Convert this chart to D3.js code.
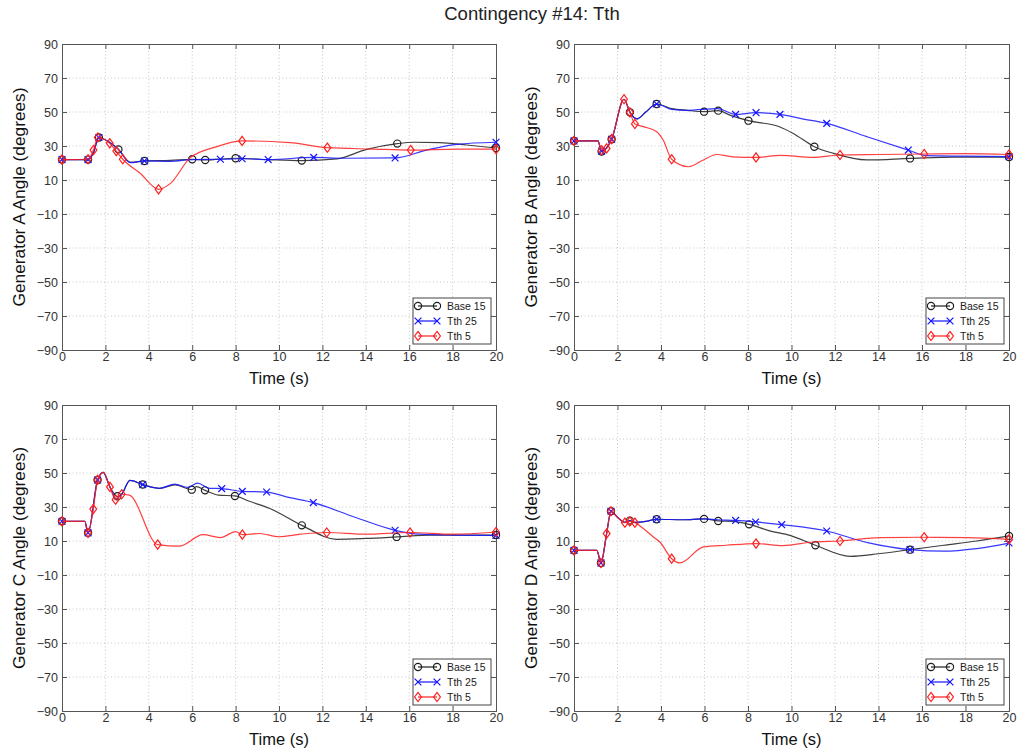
<!DOCTYPE html>
<html>
<head>
<meta charset="utf-8">
<script src="https://cdn.jsdelivr.net/npm/d3@7"></script>
<style>
  html, body { margin: 0; padding: 0; background: #fff; }
  svg { display: block; font-family: "Liberation Sans", Arial, sans-serif; }
</style>
</head>
<body>
<svg id="fig" width="1018" height="753"></svg>
<script>
// Time axis and angle axis ticks
const xTicks = [0, 2, 4, 6, 8, 10, 12, 14, 16, 18, 20];
const yTicks = [-90, -70, -50, -30, -10, 10, 30, 50, 70, 90];
const seriesNames = ["Base 15", "Tth 25", "Tth 5"];
const panelTitles = ["Generator A Angle (degrees)", "Generator B Angle (degrees)",
                     "Generator C Angle (degrees)", "Generator D Angle (degrees)"];

// Each point: [time (s), angle (deg), marker flag]
const genA_base = [[0,22,1],[1.2,22,1],[1.45,26],[1.7,35,1],[2.2,32],[2.6,28,1],[3.15,20.5],[3.8,21.2,1],[5,21.5],[6,22.2,1],[6.6,21.8,1],[8,22.8,1],[9.5,22],[11.05,21.4,1],[12.66,22.4],[14.04,28],[15.45,31.4,1],[16.2,32.2],[17.4,32],[18.65,30.6],[20,28.8,1]];
const genA_t25  = [[0,22,1],[1.2,22,1],[1.45,26],[1.7,35,1],[2.2,32],[2.6,28],[3.15,20.2],[3.8,21.2,1],[5,21],[6,22],[7.3,22.2,1],[8.3,22.5,1],[9.5,22,1],[11.6,23.3,1],[13,22.8],[15.35,23,1],[16.8,27.6],[18.2,31],[20,32.2,1]];
const genA_t5   = [[0,22,1],[1.2,22.2,1],[1.45,27.6,1],[1.65,35,1],[2.2,31.6,1],[2.5,27,1],[2.8,22.2,1],[3.6,14],[4.45,4.5,1],[5,8],[5.9,23],[7.1,29.5],[8.3,33,1],[10.5,32],[12.23,29,1],[14.35,28.2],[16.07,27.6,1],[18.2,28.2],[20,28.2,1]];

const genB_base = [[0,33,1],[1.1,33],[1.27,26.7,1],[1.73,34,1],[2.3,57.5],[2.57,49.8,1],[2.9,46],[3.3,50],[3.8,54.7,1],[4.5,52],[5.2,51],[5.98,50.2,1],[6.63,50.8,1],[7.2,48],[8.02,44.9,1],[9.47,41.2],[10.08,37.4],[11.05,29.6,1],[11.92,25.7],[13.46,21.8],[15.45,22.7,1],[17.5,23.5],[20,23.5,1]];
const genB_t25  = [[0,33,1],[1.1,33],[1.27,27,1],[1.73,34,1],[2.3,57.5],[2.57,50],[2.9,46],[3.3,50],[3.8,54.7,1],[4.5,51.5],[5.2,51],[6.6,52],[7.43,48.6,1],[8.37,49.6,1],[9.47,48.6,1],[10.5,46],[11.62,43.3,1],[13.46,35.5],[15.37,27.6,1],[16.2,24.3],[18,24],[20,23.7,1]];
const genB_t5   = [[0,33,1],[1.1,33],[1.27,27.5,1],[1.5,28.6,1],[1.73,34,1],[2.3,57.5,1],[2.57,49.8,1],[2.8,43,1],[3.19,41.4],[3.8,38.4],[4.1,33.5],[4.49,22.2,1],[5.26,17.8],[5.95,21.8],[6.56,25],[7.3,23.6],[8.37,23.3,1],[9.5,24.5],[11,23.3],[12.23,24.7,1],[14,25],[16.1,25.3,1],[18,25.5],[20,25,1]];

const genC_base = [[0,21.6,1],[1.05,21.6],[1.2,14.8,1],[1.64,45.9,1],[1.9,50.4],[2.2,42],[2.55,36.3,1],[2.75,37.5],[3.13,45.7],[3.72,43.2,1],[4.5,41],[5.2,43],[5.98,40.2,1],[6.2,42],[6.59,39.8,1],[7.2,37],[7.97,36.5,1],[8.6,33.5],[9.58,29.1],[11.05,19.2,1],[12.66,11],[14,11.5],[15.42,12.4,1],[17,13.5],[20,13.5,1]];
const genC_t25  = [[0,21.6,1],[1.05,21.6],[1.2,14.8,1],[1.64,45.9,1],[1.9,50.4],[2.2,42],[2.5,35],[2.75,37.5],[3.13,45.7],[3.72,43.2,1],[4.5,41],[5.2,43.5],[5.8,41.5],[6.25,44],[6.8,41],[7.36,40.8,1],[8.31,39.2,1],[9.43,38.8,1],[10.5,35.5],[11.58,32.6,1],[13.5,24],[15.35,16.3,1],[16.5,14],[18,13.5],[20,13.3,1]];
const genC_t5   = [[0,21.6,1],[1.05,21.6],[1.2,14.8,1],[1.44,28.8,1],[1.64,45.9,1],[1.9,50.4],[2.21,41.8,1],[2.47,34.3,1],[2.75,37.5,1],[3.1,37],[4.41,7.9,1],[5.4,7],[6.5,13.7],[7.3,12],[8,15.5],[8.31,13.8,1],[9.1,14.4],[10,12.5],[11,14],[12.2,15,1],[14,14],[16.04,15,1],[18,14],[20,15.3,1]];

const genD_base = [[0,4.5,1],[1.05,4.5],[1.24,-2.9,1],[1.5,14.4],[1.7,27.5,1],[2.0,24],[2.34,21],[2.57,22,1],[2.8,21],[3.3,21.5],[3.8,22.8,1],[5,22.5],[5.98,23,1],[6.63,21.8,1],[7.3,21.5],[8.05,19.8,1],[9,16],[9.93,13.3],[11.1,7.5,1],[12.7,1],[14,2.5],[15.45,4.9,1],[17,7.5],[18.5,10],[20,13,1]];
const genD_t25  = [[0,4.5,1],[1.05,4.5],[1.24,-2.9,1],[1.5,14.4],[1.7,27.5,1],[2.0,24],[2.34,21],[2.57,22],[2.8,21],[3.3,21.5],[3.8,22.8,1],[5,22.5],[6,23],[6.6,22.5],[7.43,22.1,1],[8.35,21.2,1],[9.55,19.6,1],[11.62,15.9,1],[13.5,9],[15.45,4.9,1],[17,4],[18.5,5.5],[20,8.8,1]];
const genD_t5   = [[0,4.5,1],[1.05,4.5],[1.24,-2.9,1],[1.5,14.4,1],[1.7,27.5,1],[2.0,24],[2.34,20.8,1],[2.57,21.5,1],[2.8,20.8,1],[3.19,17.3],[3.65,12.4],[3.95,9.4],[4.49,-0.4,1],[4.87,-2.9],[5.95,6.5],[7,7.5],[8.37,8.5,1],[9.6,7.3],[11,9.4],[12.23,10,1],[14.07,12],[16.1,12.2,1],[18.05,12],[20,11,1]];

const panelSeries = [
  [genA_base, genA_t25, genA_t5],
  [genB_base, genB_t25, genB_t5],
  [genC_base, genC_t25, genC_t5],
  [genD_base, genD_t25, genD_t5]
];

// Drawing styles
const colors = ["#1e1e1e", "#1414ff", "#ff1e1e"];
const markers = ["circle", "cross", "diamond"];
const boxes = [
  {x0: 62,  x1: 496,  y0: 44,  y1: 350},
  {x0: 574, x1: 1009, y0: 44,  y1: 350},
  {x0: 62,  x1: 496,  y0: 405, y1: 711},
  {x0: 574, x1: 1009, y0: 405, y1: 711}
];

const svg = d3.select("#fig");

svg.append("text")
  .attr("x", 532).attr("y", 20)
  .attr("text-anchor", "middle")
  .attr("font-size", 18.5)
  .attr("fill", "#222")
  .text("Contingency #14: Tth");

function drawMarker(g, type, x, y, color) {
  if (type === "circle") {
    g.append("circle").attr("cx", x).attr("cy", y).attr("r", 3.6)
      .attr("fill", "none").attr("stroke", color).attr("stroke-width", 1.2);
  } else if (type === "cross") {
    const s = 3.4;
    g.append("path")
      .attr("d", `M${x - s},${y - s}L${x + s},${y + s}M${x - s},${y + s}L${x + s},${y - s}`)
      .attr("stroke", color).attr("stroke-width", 1.2).attr("fill", "none");
  } else {
    const w = 3.4, h = 4.6;
    g.append("path")
      .attr("d", `M${x},${y - h}L${x + w},${y}L${x},${y + h}L${x - w},${y}Z`)
      .attr("stroke", color).attr("stroke-width", 1.2).attr("fill", "none");
  }
}

boxes.forEach((b, i) => {
  const x = d3.scaleLinear().domain([0, 20]).range([b.x0, b.x1]);
  const y = d3.scaleLinear().domain([-90, 90]).range([b.y1, b.y0]);
  const g = svg.append("g");

  // dotted grid
  g.append("g").selectAll("line").data(xTicks.slice(1, -1)).join("line")
    .attr("x1", d => x(d)).attr("x2", d => x(d))
    .attr("y1", b.y0).attr("y2", b.y1)
    .attr("stroke", "#c8c8c8").attr("stroke-width", 1).attr("stroke-dasharray", "1,2.5");
  g.append("g").selectAll("line").data(yTicks.slice(1, -1)).join("line")
    .attr("x1", b.x0).attr("x2", b.x1)
    .attr("y1", d => y(d)).attr("y2", d => y(d))
    .attr("stroke", "#c8c8c8").attr("stroke-width", 1).attr("stroke-dasharray", "1,2.5");

  // axes (ticks point inward, labels outside)
  const xAxis = d3.axisBottom(x).tickValues(xTicks).tickSize(-5).tickPadding(2.5).tickFormat(d3.format("d"));
  const yAxis = d3.axisLeft(y).tickValues(yTicks).tickSize(-5).tickPadding(4).tickFormat(d3.format("d"));
  const gx = g.append("g").attr("transform", `translate(0,${b.y1})`).call(xAxis);
  const gy = g.append("g").attr("transform", `translate(${b.x0},0)`).call(yAxis);
  const gxt = g.append("g").attr("transform", `translate(0,${b.y0})`)
    .call(d3.axisTop(x).tickValues(xTicks).tickSize(-5).tickFormat(""));
  const gyr = g.append("g").attr("transform", `translate(${b.x1},0)`)
    .call(d3.axisRight(y).tickValues(yTicks).tickSize(-5).tickFormat(""));
  [gx, gy, gxt, gyr].forEach(a => {
    a.select(".domain").attr("stroke", "#555").attr("stroke-width", 1);
    a.selectAll(".tick line").attr("stroke", "#555");
    a.selectAll("text").attr("font-size", 12.5).attr("fill", "#333")
      .attr("font-family", "Liberation Sans, Arial, sans-serif");
  });

  // axis labels
  g.append("text")
    .attr("x", (b.x0 + b.x1) / 2).attr("y", b.y1 + 34)
    .attr("text-anchor", "middle").attr("font-size", 16.5).attr("fill", "#111")
    .text("Time (s)");
  g.append("text")
    .attr("transform", `translate(${b.x0 - 37},${(b.y0 + b.y1) / 2}) rotate(-90)`)
    .attr("text-anchor", "middle").attr("font-size", 17.3).attr("fill", "#111")
    .text(panelTitles[i]);

  // series lines and markers
  const line = d3.line().x(d => x(d[0])).y(d => y(d[1])).curve(d3.curveMonotoneX);
  panelSeries[i].forEach((pts, s) => {
    g.append("path").datum(pts)
      .attr("d", line)
      .attr("fill", "none").attr("stroke", colors[s]).attr("stroke-width", 1.2)
      .attr("stroke-opacity", 0.85);
    pts.filter(p => p[2]).forEach(p => drawMarker(g, markers[s], x(p[0]), y(p[1]), colors[s]));
  });

  // legend
  const lx = b.x1 - 83, ly = b.y1 - 52;
  const lg = g.append("g").attr("transform", `translate(${lx},${ly})`);
  lg.append("rect").attr("width", 78).attr("height", 46)
    .attr("fill", "#fff").attr("stroke", "#444").attr("stroke-width", 1);
  seriesNames.forEach((name, s) => {
    const yy = 8 + s * 15;
    lg.append("line").attr("x1", 5).attr("x2", 24).attr("y1", yy).attr("y2", yy)
      .attr("stroke", colors[s]).attr("stroke-width", 1.2);
    drawMarker(lg, markers[s], 5, yy, colors[s]);
    drawMarker(lg, markers[s], 24, yy, colors[s]);
    lg.append("text").attr("x", 34).attr("y", yy + 3.8)
      .attr("font-size", 10.5).attr("fill", "#222").text(name);
  });
});
</script>
</body>
</html>
